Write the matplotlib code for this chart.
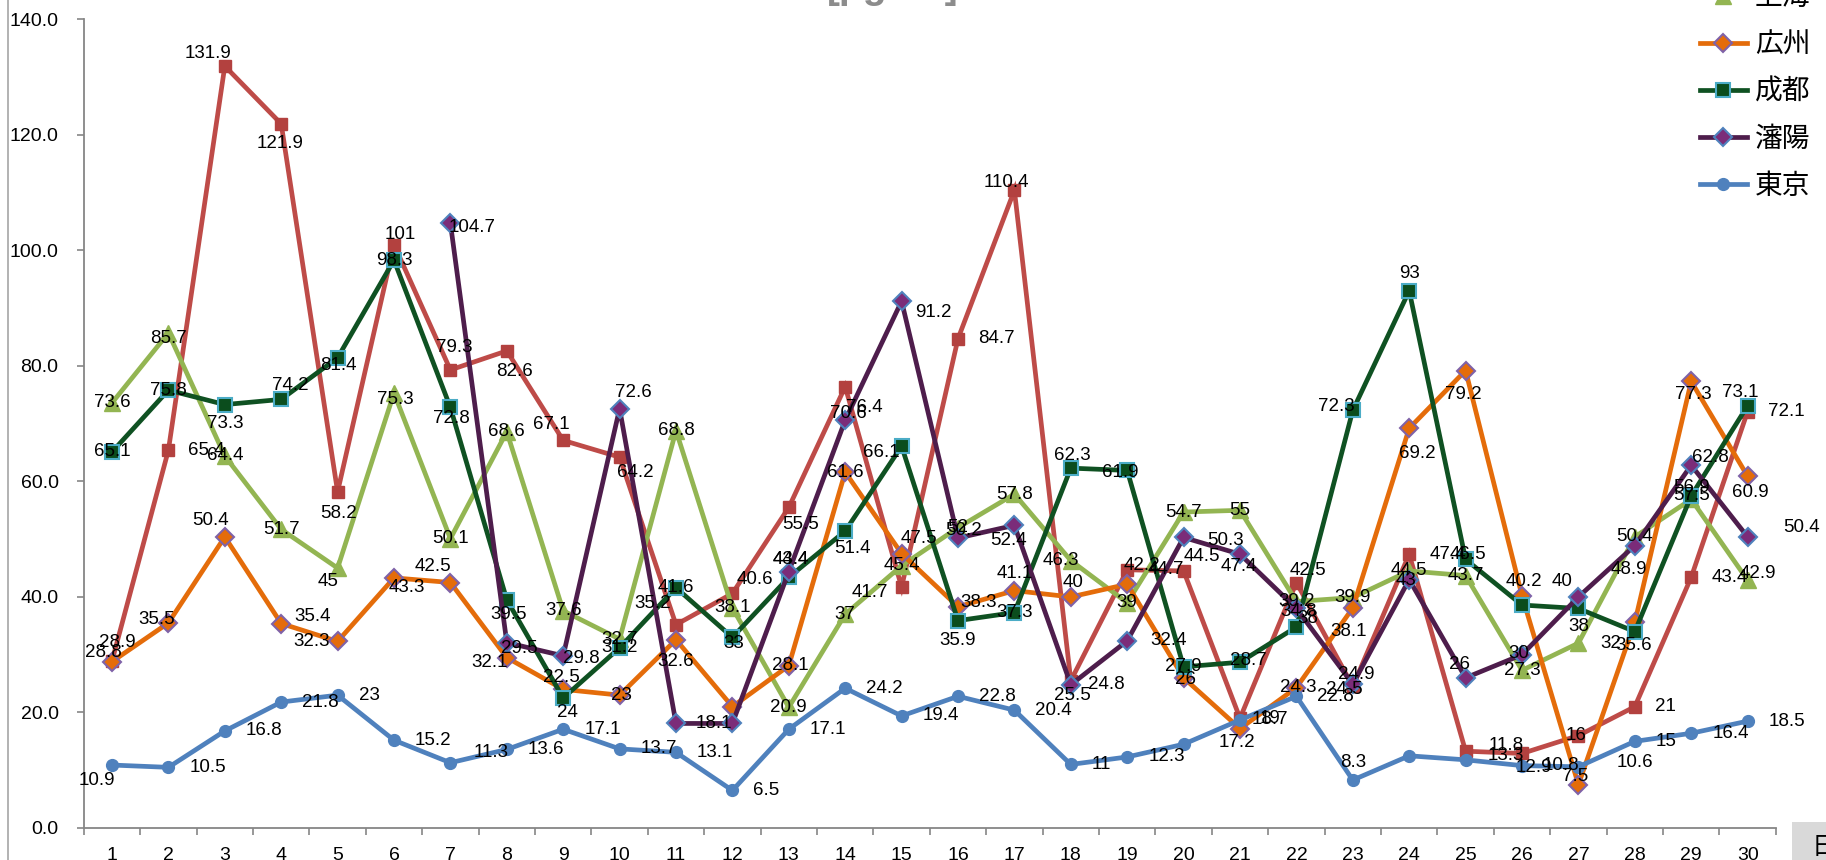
import numpy as np
import matplotlib
matplotlib.use('Agg')
import matplotlib.pyplot as plt
from matplotlib.lines import Line2D
from matplotlib.patches import Rectangle
from matplotlib.ticker import FixedLocator, FormatStrFormatter

plt.rcParams['font.family'] = ['Liberation Sans', 'Noto Sans CJK JP', 'DejaVu Sans']

nan = np.nan
days = list(range(1, 31))
cities = ['北京', '上海', '広州', '成都', '瀋陽', '東京']

beijing = [28.9, 65.4, 131.9, 121.9, 58.2, 101, 79.3, 82.6, 67.1, 64.2,
           35.2, 40.6, 55.5, 76.4, 41.7, 84.7, 110.4, 25.5, 44.7, 44.5,
           19, 42.5, 24.5, 47.4, 13.3, 12.9, 16, 21, 43.4, 72.1]
shanghai = [73.6, 85.7, 64.4, 51.7, 45, 75.3, 50.1, 68.6, 37.6, 32.7,
            68.8, 38.1, 20.9, 37, 45.4, 52, 57.8, 46.3, 39, 54.7,
            55, 39.2, 39.9, 44.5, 43.7, 27.3, 32, 50.4, 56.9, 42.9]
guangzhou = [28.8, 35.5, 50.4, 35.4, 32.3, 43.3, 42.5, 29.5, 24, 23,
             32.6, 21, 28.1, 61.6, 47.5, 38.3, 41.1, 40, 42.2, 26,
             17.2, 24.3, 38.1, 69.2, 79.2, 40.2, 7.5, 35.6, 77.3, 60.9]
chengdu = [65.1, 75.8, 73.3, 74.2, 81.4, 98.3, 72.8, 39.5, 22.5, 31.2,
           41.6, 33, 43.4, 51.4, 66.1, 35.9, 37.3, 62.3, 61.9, 27.9,
           28.7, 34.8, 72.3, 93, 46.5, 38.6, 38, 34, 57.5, 73.1]
shenyang = [nan, nan, nan, nan, nan, nan, 104.7, 32.1, 29.8, 72.6,
            18.1, 18.1, 44.4, 70.6, 91.2, 50.2, 52.4, 24.8, 32.4, 50.3,
            47.4, 38, 24.9, 43, 26, 30, 40, 48.9, 62.8, 50.4]
tokyo = [10.9, 10.5, 16.8, 21.8, 23, 15.2, 11.3, 13.6, 17.1, 13.7,
         13.1, 6.5, 17.1, 24.2, 19.4, 22.8, 20.4, 11, 12.3, 14.5,
         18.7, 22.8, 8.3, 12.5, 11.8, 10.8, 10.6, 15, 16.4, 18.5]
series = [beijing, shanghai, guangzhou, chengdu, shenyang, tokyo]
yticks = [0, 20, 40, 60, 80, 100, 120, 140]

# styles
styles = {
    '北京': dict(color='#BE4B48', marker='s', ms=8.5, mfc='#B3413F', mec='#B3413F', mew=1.0),
    '上海': dict(color='#93B552', marker='^', ms=11, mfc='#93B552', mec='#93B552', mew=1.0),
    '広州': dict(color='#E46C0A', marker='D', ms=9.5, mfc='#E46C0A', mec='#7F62A8', mew=1.5),
    '成都': dict(color='#0F5122', marker='s', ms=9.5, mfc='#0B4D1D', mec='#4BACC6', mew=1.5),
    '瀋陽': dict(color='#4E1D4C', marker='D', ms=9.5, mfc='#7B2C79', mec='#4F81BD', mew=1.5),
    '東京': dict(color='#4F81BD', marker='o', ms=8.5, mfc='#4F81BD', mec='#4F81BD', mew=1.0),
}

# data label placement (pixel offsets dx, dy-up, horizontal alignment); None hides a label
R = (20, 0, 'left')
C = (0, 0, 'center')
label_default = {'北京': R, '上海': C, '広州': C, '成都': C, '瀋陽': R, '東京': (21, 0, 'left')}
label_pos = {
    '北京': {1: (5, 19, 'center'), 3: (-17, 13, 'center'), 4: (-1, -20, 'center'),
             5: (1, -22, 'center'), 6: (6, 10, 'center'), 7: (4, 22, 'center'),
             8: (8, -21, 'center'), 9: (-12, 16, 'center'), 10: (16, -15, 'center'),
             11: (-23, 21, 'center'), 12: (23, 14, 'center'), 13: (12, -17, 'center'),
             14: (19, -21, 'center'), 15: (-32, -5, 'center'), 17: (-8, 8, 'center'),
             18: (2, -15, 'center'), 20: (0, 14, 'left'), 22: (12, 12, 'center'),
             23: (-8, -3, 'center'), 25: (22, -4, 'left'), 26: (12, -14, 'center'),
             27: (-2, 0, 'center')},
    '上海': {2: (0, -6, 'center'), 5: (-10, -13, 'center'), 6: (1, -6, 'center'),
             18: (-10, 0, 'center'), 27: (22, 0, 'left'), 29: (0, 12, 'center'),
             30: (10, 7, 'center')},
    '広州': {1: (-9, 9, 'center'), 2: (-12, 3, 'center'), 3: (-14, 16, 'center'),
             4: (13, 7, 'left'), 5: (-8, 0, 'right'), 6: (-5, -10, 'left'),
             7: (-17, 16, 'center'), 8: (-6, 9, 'left'), 9: (4, -23, 'center'),
             10: (2, 0, 'center'), 11: (0, -22, 'center'), 12: None, 13: (2, 0, 'center'),
             15: (17, 15, 'center'), 16: (2, 4, 'left'), 17: (0, 17, 'center'),
             18: (2, 14, 'center'), 19: (15, 19, 'center'), 20: (2, -2, 'center'),
             21: (-3, -14, 'center'), 22: (2, 0, 'center'), 23: (-4, -24, 'center'),
             24: (8, -25, 'center'), 25: (-2, -24, 'center'), 26: (2, 14, 'center'),
             27: (-3, 8, 'center'), 28: (-1, -23, 'center'), 29: (2, -13, 'center'),
             30: (3, -16, 'center')},
    '成都': {3: (0, -19, 'center'), 4: (9, 14, 'center'), 5: (1, -8, 'center'),
             7: (1, -11, 'center'), 8: (2, -15, 'center'), 9: (-2, 21, 'center'),
             12: (1, -6, 'center'), 13: (2, 18, 'center'), 14: (7, -17, 'center'),
             15: (-20, -6, 'center'), 16: (0, -20, 'center'), 18: (2, 13, 'center'),
             19: (-7, -2, 'center'), 21: (8, 2, 'center'), 22: (2, 15, 'center'),
             23: (-16, 4, 'center'), 24: (0, 17, 'center'), 25: (2, 5, 'center'),
             26: None, 27: (0, -18, 'center'), 28: None, 30: (-7, 13, 'center')},
    '瀋陽': {7: (-2, -4, 'left'), 8: (1, -20, 'right'), 9: (0, -3, 'left'),
             10: (14, 16, 'center'), 12: None, 13: (2, 12, 'center'), 14: (3, 7, 'center'),
             15: (14, -11, 'left'), 16: (6, 8, 'center'), 17: (-6, -15, 'center'),
             18: (17, 0, 'left'), 19: (23, 0, 'left'), 20: (24, -3, 'left'),
             21: (-1, -12, 'center'), 22: (11, -10, 'center'), 23: (3, 10, 'center'),
             24: (-3, -1, 'center'), 25: (-6, 13, 'center'), 26: (-3, 1, 'center'),
             27: (-16, 15, 'center'), 28: (-6, -24, 'center'), 29: (19, 8, 'center'),
             30: (36, 9, 'left')},
    '東京': {1: (-15, -15, 'center'), 7: (23, 10, 'left'), 20: None, 21: (12, 0, 'left'),
             23: (0, 18, 'center'), 24: None, 25: (23, 14, 'left'), 27: (38, 4, 'left')},
}

W, H = 1826, 860
fig = plt.figure(figsize=(W / 100, H / 100), dpi=100)
ax = fig.add_axes([83.8 / W, 1 - 828 / H, (1775.8 - 83.8) / W, (828 - 19.3) / H])

handles = []
for z, (name, vals) in enumerate(zip(cities, series)):
    st = styles[name]
    ln, = ax.plot(days, vals, color=st['color'], lw=3.4, marker=st['marker'],
                  markersize=st['ms'], markerfacecolor=st['mfc'],
                  markeredgecolor=st['mec'], markeredgewidth=st['mew'],
                  zorder=3 + z, clip_on=False, solid_joinstyle='miter', label=name)
    handles.append(ln)

for name, vals in zip(cities, series):
    pos = label_pos[name]
    for d, v in zip(days, vals):
        if v is None or np.isnan(v):
            continue
        o = pos.get(d, label_default[name])
        if o is None:
            continue
        dx, dy, ha = o
        ax.annotate(f'{v:g}', (d, v), xytext=(dx, dy), textcoords='offset pixels',
                    ha=ha, va='center', fontsize=13.5, color='black', zorder=20,
                    annotation_clip=False)

ax.set_xlim(0.5, 30.5)
ax.set_ylim(0, 140)
ax.set_yticks(yticks)
ax.yaxis.set_major_formatter(FormatStrFormatter('%.1f'))
ax.set_xticks(days)
ax.set_xticklabels([str(d) for d in days])
ax.xaxis.set_minor_locator(FixedLocator(np.arange(0.5, 31, 1)))
ax.tick_params(axis='x', which='major', length=0, pad=13.7, labelsize=14)
ax.tick_params(axis='x', which='minor', length=5, width=1.2, color='#868686', direction='out')
ax.tick_params(axis='y', which='major', length=4.8, width=1.2, color='#868686',
               direction='out', pad=13.4, labelsize=14)
for s in ['top', 'right']:
    ax.spines[s].set_visible(False)
for s in ['left', 'bottom']:
    ax.spines[s].set_color('#868686')
    ax.spines[s].set_linewidth(1.3)

leg = fig.legend(handles, cities, loc='lower left', bbox_to_anchor=(1689 / W, 1 - 211 / H),
                 bbox_transform=fig.transFigure, frameon=False, fontsize=20,
                 handlelength=1.68, handletextpad=0.29, labelspacing=0.76,
                 borderpad=0.4, borderaxespad=0)

# chart-area border on the left
fig.add_artist(Line2D([7.5 / W, 7.5 / W], [0, 1], transform=fig.transFigure,
                      color='#A6A6A6', lw=1.2))
# title (mostly cut off at the top)
fig.text(893 / W, 1 + 2 / H, '[μg/m³]', ha='center', va='baseline', fontsize=28,
         fontweight='bold', color='#8C8C8C')
# x-axis title box (cut off at the bottom right)
fig.add_artist(Rectangle((1792 / W, 0), (W - 1792) / W, (H - 822) / H,
                         transform=fig.transFigure, facecolor='#D9D9D9', edgecolor='none'))
fig.text(1812 / W, 1 - 835 / H, '日付', ha='left', va='top', fontsize=18, color='black')

fig.savefig('out.png', dpi=100)
